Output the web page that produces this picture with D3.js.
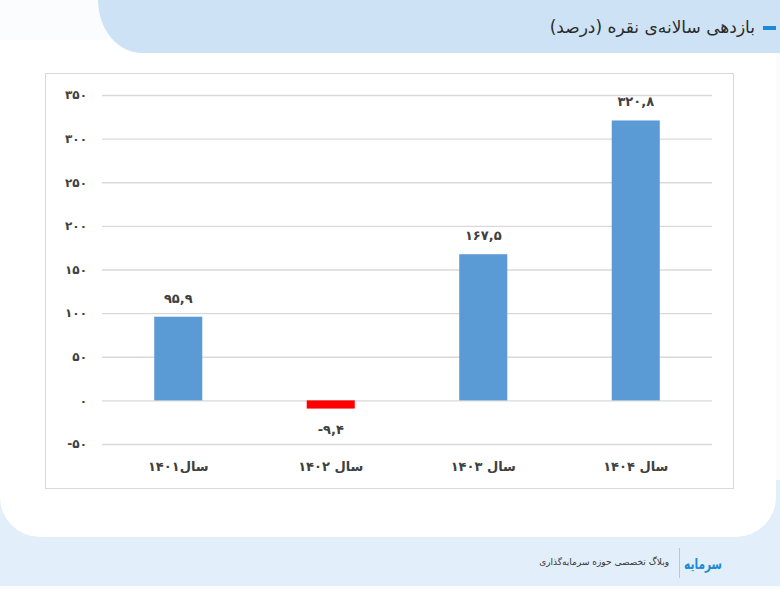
<!DOCTYPE html>
<html>
<head>
<meta charset="utf-8">
<script src="https://cdn.jsdelivr.net/npm/d3@7"></script>
<style>
	html, body { margin: 0; padding: 0; background: #fbfcfe; }
	svg { display: block; }
	text { font-family: "DejaVu Sans", "Noto Sans", sans-serif; }
</style>
</head>
<body>
<svg id="chart" width="780" height="589"></svg>
<script>
	// data
	const categories = [ 'سال۱۴۰۱', 'سال ۱۴۰۲', 'سال ۱۴۰۳', 'سال ۱۴۰۴' ];
	const values = [ 95.9, -9.4, 167.5, 320.8 ];
	const yTicks = [ -50, 0, 50, 100, 150, 200, 250, 300, 350 ];
	const title = 'بازدهی سالانه‌ی نقره (درصد)';
	const footerText = 'وبلاگ تخصصی حوزه سرمایه‌گذاری';

	// persian digits
	function fa( v ) {
		return String( v ).replace( /[0-9]/g, d => '۰۱۲۳۴۵۶۷۸۹'[ d ] ).replace( '.', ',' );
	}

	let svg = d3.select( '#chart' );

	// bottom band + card + header
	svg.append( 'rect' )
		.attr( 'x', 0 ).attr( 'y', 480 ).attr( 'width', 780 ).attr( 'height', 106 )
		.style( 'fill', '#e2eef9' );
	svg.append( 'path' )
		.attr( 'd', 'M0,40 H776 V497 A40,40 0 0 1 736,537 H40 A40,40 0 0 1 0,497 Z' )
		.style( 'fill', '#ffffff' );
	svg.append( 'path' )
		.attr( 'd', 'M98,0 H780 V53 H142 A44,53 0 0 1 98,0 Z' )
		.style( 'fill', '#cde3f5' );

	// title
	svg.append( 'rect' )
		.attr( 'x', 763 ).attr( 'y', 26 ).attr( 'width', 13 ).attr( 'height', 4 )
		.style( 'fill', '#1c8ad6' );
	svg.append( 'text' )
		.attr( 'x', 755 ).attr( 'y', 33 )
		.attr( 'text-anchor', 'end' )
		.style( 'font-size', '17px' )
		.style( 'fill', '#2b2b2b' )
		.text( title );

	// plot frame
	svg.append( 'rect' )
		.attr( 'x', 45.5 ).attr( 'y', 73.5 ).attr( 'width', 688 ).attr( 'height', 415 )
		.style( 'fill', 'none' ).style( 'stroke', '#d9d9d9' );

	let x = d3.scaleBand()
		.domain( categories.map( ( c, i ) => i ) )
		.range( [ 102, 712 ] )
		.paddingInner( 0.685 )
		.paddingOuter( 0.3425 );

	let y = d3.scaleLinear()
		.domain( [ -50, 350 ] )
		.range( [ 444, 95 ] );

	// grid
	let grid = svg.append( 'g' )
		.attr( 'transform', 'translate(102,0)' )
		.call( d3.axisLeft( y ).tickValues( yTicks ).tickSize( -610 ).tickFormat( '' ) );
	grid.select( '.domain' ).remove();
	grid.selectAll( 'line' ).style( 'stroke', '#d9d9d9' ).style( 'stroke-width', 1.3 );

	// y labels
	let yAxis = svg.append( 'g' )
		.attr( 'transform', 'translate(87,0)' )
		.call( d3.axisLeft( y ).tickValues( yTicks ).tickSize( 0 ).tickPadding( 0 ).tickFormat( fa ) );
	yAxis.select( '.domain' ).remove();
	yAxis.selectAll( 'text' )
		.attr( 'direction', 'ltr' )
		.style( 'font-size', '12px' )
		.style( 'font-weight', 'bold' )
		.style( 'fill', '#404040' );

	// bars
	svg.selectAll( 'rect.bar' ).data( values )
		.enter().append( 'rect' )
		.attr( 'class', 'bar' )
		.attr( 'x', ( d, i ) => x( i ) )
		.attr( 'y', d => y( Math.max( 0, d ) ) )
		.attr( 'width', x.bandwidth() )
		.attr( 'height', d => Math.abs( y( d ) - y( 0 ) ) )
		.style( 'fill', d => d < 0 ? '#ff0000' : '#5b9bd5' );

	// value labels
	svg.selectAll( 'text.val' ).data( values )
		.enter().append( 'text' )
		.attr( 'class', 'val' )
		.attr( 'x', ( d, i ) => x( i ) + x.bandwidth() / 2 )
		.attr( 'y', d => d < 0 ? y( d ) + 25 : y( d ) - 14 )
		.attr( 'text-anchor', 'middle' )
		.attr( 'direction', 'ltr' )
		.style( 'font-size', '13px' )
		.style( 'font-weight', 'bold' )
		.style( 'fill', '#404040' )
		.text( fa );

	// x labels
	svg.selectAll( 'text.cat' ).data( categories )
		.enter().append( 'text' )
		.attr( 'class', 'cat' )
		.attr( 'x', ( d, i ) => x( i ) + x.bandwidth() / 2 )
		.attr( 'y', 471 )
		.attr( 'text-anchor', 'middle' )
		.style( 'font-size', '13px' )
		.style( 'font-weight', 'bold' )
		.style( 'fill', '#404040' )
		.text( d => d );

	// footer
	svg.append( 'line' )
		.attr( 'x1', 679.5 ).attr( 'x2', 679.5 ).attr( 'y1', 548 ).attr( 'y2', 578 )
		.style( 'stroke', '#a9cbe8' );
	svg.append( 'text' )
		.attr( 'x', 669 ).attr( 'y', 565 )
		.attr( 'text-anchor', 'end' )
		.style( 'font-size', '9px' )
		.style( 'fill', '#333' )
		.text( footerText );
	svg.append( 'text' )
		.attr( 'x', 703 ).attr( 'y', 569 )
		.attr( 'text-anchor', 'middle' )
		.attr( 'textLength', 38 )
		.attr( 'lengthAdjust', 'spacingAndGlyphs' )
		.style( 'font-size', '15px' )
		.style( 'font-weight', 'bold' )
		.style( 'fill', '#1c8ad6' )
		.text( 'سرمایه' );
</script>
</body>
</html>
